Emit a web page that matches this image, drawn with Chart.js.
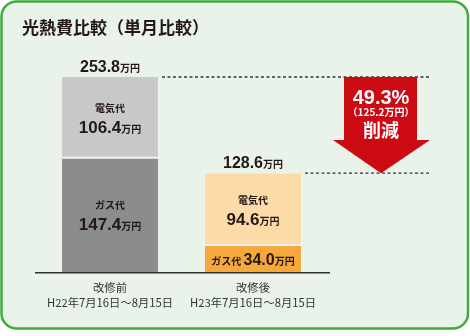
<!DOCTYPE html>
<html>
<head>
<meta charset="utf-8">
<script src="https://cdn.jsdelivr.net/npm/chart.js"></script>
<style>
  html, body { margin: 0; padding: 0; background: #ffffff; }
  #wrap { width: 470px; height: 336px; }
</style>
</head>
<body>
<div id="wrap"><canvas id="myChart" width="470" height="336"></canvas></div>
<script>
// data
const periods = ['改修前', '改修後'];
const periodDates = ['H22年7月16日～8月15日', 'H23年7月16日～8月15日'];
const gasCost = [147.4, 34.0];
const electricCost = [106.4, 94.6];
const totalCost = [253.8, 128.6];
const reductionPct = '49.3%';
const reductionAmount = 125.2;

const FONT = "'Noto Sans CJK JP', 'Noto Sans', sans-serif";
const NUMFONT = "'Liberation Sans', Arial, sans-serif";

// number + small 万円, centred at x
function drawValue(ctx, x, y, num, numSize, unitSize, color) {
  ctx.save();
  ctx.fillStyle = color;
  ctx.textBaseline = 'alphabetic';
  ctx.font = 'bold ' + numSize + 'px ' + NUMFONT;
  const w1 = ctx.measureText(num).width;
  ctx.font = 'bold ' + unitSize + 'px ' + FONT;
  const w2 = ctx.measureText('万円').width;
  const start = x - (w1 + w2) / 2;
  ctx.textAlign = 'left';
  ctx.font = 'bold ' + numSize + 'px ' + NUMFONT;
  ctx.fillText(num, start, y);
  ctx.font = 'bold ' + unitSize + 'px ' + FONT;
  ctx.fillText('万円', start + w1, y);
  ctx.restore();
}

const framePlugin = {
  id: 'frame',
  beforeDraw(chart) {
    const ctx = chart.ctx;
    ctx.save();
    ctx.fillStyle = '#ffffff';
    ctx.fillRect(0, 0, chart.width, chart.height);
    ctx.beginPath();
    ctx.roundRect(1.5, 1.5, 466.5, 327, 15);
    ctx.fillStyle = '#eaf3ea';
    ctx.fill();
    ctx.lineWidth = 2.5;
    ctx.strokeStyle = '#3cae3a';
    ctx.stroke();
    ctx.fillStyle = '#231815';
    ctx.font = 'bold 17px ' + FONT;
    ctx.textBaseline = 'middle';
    ctx.fillText('光熱費比較（単月比較）', 22, 28);
    ctx.restore();
  }
};

const labelPlugin = {
  id: 'labels',
  afterDatasetsDraw(chart) {
    const ctx = chart.ctx;
    const y = chart.scales.y;
    const gasBars = chart.getDatasetMeta(0).data;
    const elecBars = chart.getDatasetMeta(1).data;
    const dark = '#231815';

    // baseline
    ctx.save();
    ctx.strokeStyle = '#333333';
    ctx.lineWidth = 1.5;
    ctx.beginPath();
    ctx.moveTo(35, y.getPixelForValue(0) + 0.75);
    ctx.lineTo(330, y.getPixelForValue(0) + 0.75);
    ctx.stroke();
    ctx.restore();

    // dashed lines + arrow
    const yTop = y.getPixelForValue(totalCost[0]);
    const yBot = y.getPixelForValue(totalCost[1]);
    ctx.save();
    ctx.strokeStyle = '#333333';
    ctx.lineWidth = 1.3;
    ctx.setLineDash([3, 2.5]);
    ctx.beginPath();
    ctx.moveTo(elecBars[0].x + elecBars[0].width / 2 + 4, yTop);
    ctx.lineTo(430, yTop);
    ctx.moveTo(elecBars[1].x + elecBars[1].width / 2 + 4, yBot);
    ctx.lineTo(430, yBot);
    ctx.stroke();
    ctx.setLineDash([]);

    const headY = yTop + 63;
    ctx.beginPath();
    ctx.moveTo(344, yTop);
    ctx.lineTo(417, yTop);
    ctx.lineTo(417, headY);
    ctx.lineTo(430, headY);
    ctx.lineTo(381, yBot);
    ctx.lineTo(333, headY);
    ctx.lineTo(344, headY);
    ctx.closePath();
    ctx.fillStyle = '#cc0a14';
    ctx.fill();

    ctx.fillStyle = '#ffffff';
    ctx.textAlign = 'center';
    ctx.textBaseline = 'alphabetic';
    ctx.font = 'bold 20px ' + NUMFONT;
    ctx.fillText(reductionPct, 381, yTop + 27);
    ctx.font = 'bold 10px ' + FONT;
    ctx.fillText('（' + reductionAmount.toFixed(1) + '万円）', 381, yTop + 39);
    ctx.font = 'bold 18px ' + FONT;
    ctx.fillText('削減', 381, yTop + 60);
    ctx.restore();

    // totals above bars
    elecBars.forEach((b, i) => {
      drawValue(ctx, b.x, b.y - 5, totalCost[i].toFixed(1), 16, 10, dark);
    });

    ctx.save();
    ctx.textAlign = 'center';
    ctx.fillStyle = dark;
    // electricity segments
    elecBars.forEach((b, i) => {
      const mid = (b.y + b.base) / 2;
      ctx.font = 'bold 10px ' + FONT;
      ctx.textBaseline = 'alphabetic';
      ctx.fillText('電気代', b.x, mid - 6);
      drawValue(ctx, b.x, mid + 15, electricCost[i].toFixed(1), 17, 10, dark);
    });
    // gas segments
    const g0 = gasBars[0];
    const gm = (g0.y + g0.base) / 2;
    ctx.font = 'bold 10px ' + FONT;
    ctx.fillText('ガス代', g0.x, gm - 6);
    drawValue(ctx, g0.x, gm + 15, gasCost[0].toFixed(1), 17, 10, dark);
    const g1 = gasBars[1];
    const gm1 = (g1.y + g1.base) / 2;
    ctx.font = 'bold 16px ' + NUMFONT;
    const nw = ctx.measureText(gasCost[1].toFixed(1)).width;
    ctx.font = 'bold 10px ' + FONT;
    const lw = ctx.measureText('ガス代 ').width;
    const uw = ctx.measureText('万円').width;
    const total = lw + nw + uw;
    ctx.textAlign = 'left';
    ctx.fillText('ガス代', g1.x - total / 2, gm1 + 6);
    drawValue(ctx, g1.x - total / 2 + lw + (nw + uw) / 2, gm1 + 6, gasCost[1].toFixed(1), 16, 10, dark);
    ctx.restore();
  }
};

new Chart(document.getElementById('myChart'), {
  type: 'bar',
  data: {
    labels: periods.map((p, i) => [p, periodDates[i]]),
    datasets: [
      {
        label: 'ガス代',
        data: gasCost,
        backgroundColor: ['#8c8c8c', '#f5a83c'],
        borderWidth: 0,
        categoryPercentage: 1,
        barPercentage: 0.671
      },
      {
        label: '電気代',
        data: electricCost,
        backgroundColor: ['#c8c8c8', '#fddba9'],
        borderColor: '#f2f2f2',
        borderWidth: { bottom: 2, top: 0, left: 0, right: 0 },
        borderSkipped: false,
        categoryPercentage: 1,
        barPercentage: 0.671
      }
    ]
  },
  options: {
    responsive: false,
    animation: false,
    layout: { padding: { left: 38.5, right: 145.5, top: 77, bottom: 14 } },
    plugins: {
      legend: { display: false },
      tooltip: { enabled: false }
    },
    scales: {
      x: {
        stacked: true,
        grid: { display: false },
        border: { display: false },
        ticks: {
          color: '#333333',
          font: { family: FONT, size: 11.3, lineHeight: 1.33 },
          padding: 0,
          maxRotation: 0,
          autoSkip: false
        },
        afterFit: s => { s.height = 50; }
      },
      y: {
        stacked: true,
        display: false,
        min: 0,
        max: totalCost[0]
      }
    }
  },
  plugins: [framePlugin, labelPlugin]
});
</script>
</body>
</html>
